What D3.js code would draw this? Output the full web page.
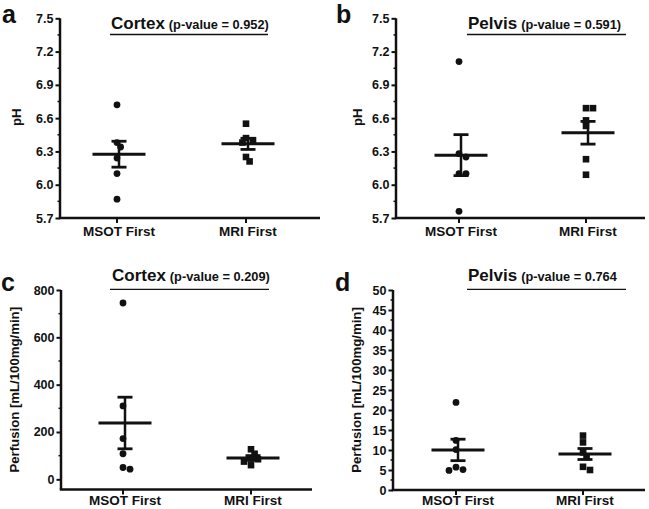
<!DOCTYPE html>
<html><head><meta charset="utf-8">
<script src="https://cdn.jsdelivr.net/npm/d3@7"></script>
<style>
html,body{margin:0;padding:0;background:#fff;}
svg{display:block;font-family:"Liberation Sans",Arial,sans-serif;font-weight:bold;}
</style></head>
<body><svg id="chart" width="649" height="509"></svg>
<script>
// ---------- data ----------
const categories = ["MSOT First", "MRI First"];

const phCortexMSOT = [6.72, 6.38, 6.34, 6.24, 6.10, 5.87];
const phCortexMRI  = [6.55, 6.42, 6.40, 6.38, 6.25, 6.21];
const phPelvisMSOT = [7.11, 6.28, 6.25, 6.10, 6.10, 5.76];
const phPelvisMRI  = [6.69, 6.69, 6.58, 6.53, 6.23, 6.09];

const perfCortexMSOT = [745, 310, 172, 108, 50, 43];
const perfCortexMRI  = [127, 108, 88, 85, 75, 60];
const perfPelvisMSOT = [21.9, 12.4, 10.1, 5.7, 5.1, 4.9];
const perfPelvisMRI  = [13.6, 11.9, 9.4, 8.3, 5.8, 5.0];

const phTicks = [5.7, 6.0, 6.3, 6.6, 6.9, 7.2, 7.5];
const perfCortexTicks = [0, 200, 400, 600, 800];
const perfPelvisTicks = [0, 5, 10, 15, 20, 25, 30, 35, 40, 45, 50];

const panelLetters = ["a", "b", "c", "d"];
const regions = ["Cortex", "Pelvis", "Cortex", "Pelvis"];
const pValues = ["(p-value = 0.952)", "(p-value = 0.591)", "(p-value = 0.209)", "(p-value = 0.764"];
const yLabels = ["pH", "pH", "Perfusion [mL/100mg/min]", "Perfusion [mL/100mg/min]"];

// ---------- layout ----------
const panels = [
  {series:[phCortexMSOT, phCortexMRI], ticks:phTicks, minorStep:0.15, domain:[5.7,7.5], fmt:d3.format(".1f"),
   x0:60, x1:320, yTop:18.3, yBot:218, cx:[117,246], titleX:111, lineX:[110,268], titleY:29, lineY:34.5,
   letterX:2, letterY:23, ylabX:16, catY:236},
  {series:[phPelvisMSOT, phPelvisMRI], ticks:phTicks, minorStep:0.15, domain:[5.7,7.5], fmt:d3.format(".1f"),
   x0:396, x1:645, yTop:18.3, yBot:218, cx:[459,586], titleX:468, lineX:[467,626], titleY:29, lineY:34.5,
   letterX:336, letterY:23, ylabX:357, catY:236},
  {series:[perfCortexMSOT, perfCortexMRI], ticks:perfCortexTicks, minorStep:100, domain:[-43,800], fmt:d3.format("d"),
   x0:61, x1:312, yTop:290, yBot:489.5, cx:[123,251], titleX:112, lineX:[110,269], titleY:281, lineY:289.3,
   letterX:1, letterY:291, ylabX:14, catY:505},
  {series:[perfPelvisMSOT, perfPelvisMRI], ticks:perfPelvisTicks, minorStep:2.5, domain:[0,50], fmt:d3.format("d"),
   x0:393, x1:645, yTop:290, yBot:490, cx:[456,583], titleX:468, lineX:[467,626], titleY:281, lineY:289.3,
   letterX:335, letterY:291, ylabX:356, catY:505}
];

const svg = d3.select("#chart");
const ink = "#111";

panels.forEach((p, i) => {
  const g = svg.append("g");
  const y = d3.scaleLinear().domain(p.domain).range([p.yBot, p.yTop]);
  const x = d3.scaleOrdinal().domain(categories).range(p.cx);

  // y axis line
  g.append("line").attr("x1", p.x0).attr("x2", p.x0).attr("y1", p.yTop).attr("y2", p.yBot)
    .attr("stroke", ink).attr("stroke-width", 2.5);
  // x axis line
  g.append("line").attr("x1", p.x0 - 1.2).attr("x2", p.x1).attr("y1", p.yBot).attr("y2", p.yBot)
    .attr("stroke", ink).attr("stroke-width", 2.5);

  // major ticks & labels via d3 axis
  const axis = d3.axisLeft(y).tickValues(p.ticks).tickFormat(p.fmt).tickSize(4.5).tickPadding(2);
  const ag = g.append("g").attr("transform", `translate(${p.x0},0)`).call(axis);
  ag.select(".domain").remove();
  ag.selectAll(".tick line").attr("stroke", ink).attr("stroke-width", 2);
  ag.selectAll(".tick text").attr("fill", ink).style("font-size", "12.5px").style("font-weight", "bold")
    .style("font-family", '"Liberation Sans", Arial, sans-serif');

  // minor ticks
  const tmin = p.ticks[0], tmax = p.ticks[p.ticks.length - 1];
  const minors = [];
  for (let v = tmin + p.minorStep; v < tmax; v += p.minorStep * 2) minors.push(+v.toFixed(4));
  g.selectAll(null).data(minors).enter().append("line")
    .attr("x1", p.x0 - 2.5).attr("x2", p.x0).attr("y1", d => y(d)).attr("y2", d => y(d))
    .attr("stroke", ink).attr("stroke-width", 1.5);

  // category ticks and labels
  categories.forEach(c => {
    g.append("line").attr("x1", x(c)).attr("x2", x(c)).attr("y1", p.yBot).attr("y2", p.yBot + 5)
      .attr("stroke", ink).attr("stroke-width", 2);
    g.append("text").attr("x", x(c) + 2).attr("y", p.catY).attr("text-anchor", "middle")
      .style("font-size", "13.5px").attr("fill", ink).text(c);
  });

  // y label
  const ymid = (p.yTop + p.yBot) / 2 + (i < 2 ? -1 : 0);
  g.append("text").attr("transform", `translate(${p.ylabX},${ymid}) rotate(-90)`)
    .attr("text-anchor", "middle").attr("dominant-baseline", "central")
    .style("font-size", "13.2px").attr("fill", ink).text(yLabels[i]);

  // panel letter
  g.append("text").attr("x", p.letterX).attr("y", p.letterY)
    .style("font-size", "25px").attr("fill", ink).text(panelLetters[i]);

  // title + underline
  const t = g.append("text").attr("x", p.titleX).attr("y", p.titleY).attr("fill", ink);
  t.append("tspan").style("font-size", "17px").text(regions[i]);
  t.append("tspan").attr("dx", 4).style("font-size", "12.8px").text(pValues[i]);
  g.append("line").attr("x1", p.lineX[0]).attr("x2", p.lineX[1]).attr("y1", p.lineY).attr("y2", p.lineY)
    .attr("stroke", ink).attr("stroke-width", 1.3);

  // data: points with simple dodge, mean and SEM
  p.series.forEach((vals, k) => {
    const cxv = x(categories[k]);
    const r = 3.4;
    const placed = [];
    vals.forEach(v => {
      const py = y(v);
      const offsets = [0, 3.6, -3.6, 7, -7];
      let off = 0;
      for (const o of offsets) {
        const clash = placed.some(q => Math.hypot(q.x - (cxv + o), q.y - py) < r * 1.6);
        if (!clash) { off = o; break; }
      }
      placed.push({x: cxv + off, y: py});
    });
    if (k === 0) {
      g.selectAll(null).data(placed).enter().append("circle")
        .attr("cx", d => d.x).attr("cy", d => d.y).attr("r", r).attr("fill", ink);
    } else {
      g.selectAll(null).data(placed).enter().append("rect")
        .attr("x", d => d.x - 3.3).attr("y", d => d.y - 3.3).attr("width", 6.6).attr("height", 6.6).attr("fill", ink);
    }
    const m = d3.mean(vals);
    const sem = d3.deviation(vals) / Math.sqrt(vals.length);
    const mx = cxv + 2;
    g.append("line").attr("x1", mx).attr("x2", mx).attr("y1", y(m + sem)).attr("y2", y(m - sem))
      .attr("stroke", ink).attr("stroke-width", 2.5);
    [m + sem, m - sem].forEach(e => {
      g.append("line").attr("x1", mx - 7.5).attr("x2", mx + 7.5).attr("y1", y(e)).attr("y2", y(e))
        .attr("stroke", ink).attr("stroke-width", 2.8);
    });
    g.append("line").attr("x1", mx - 26.5).attr("x2", mx + 26.5).attr("y1", y(m)).attr("y2", y(m))
      .attr("stroke", ink).attr("stroke-width", 3);
  });
});
</script></body></html>
